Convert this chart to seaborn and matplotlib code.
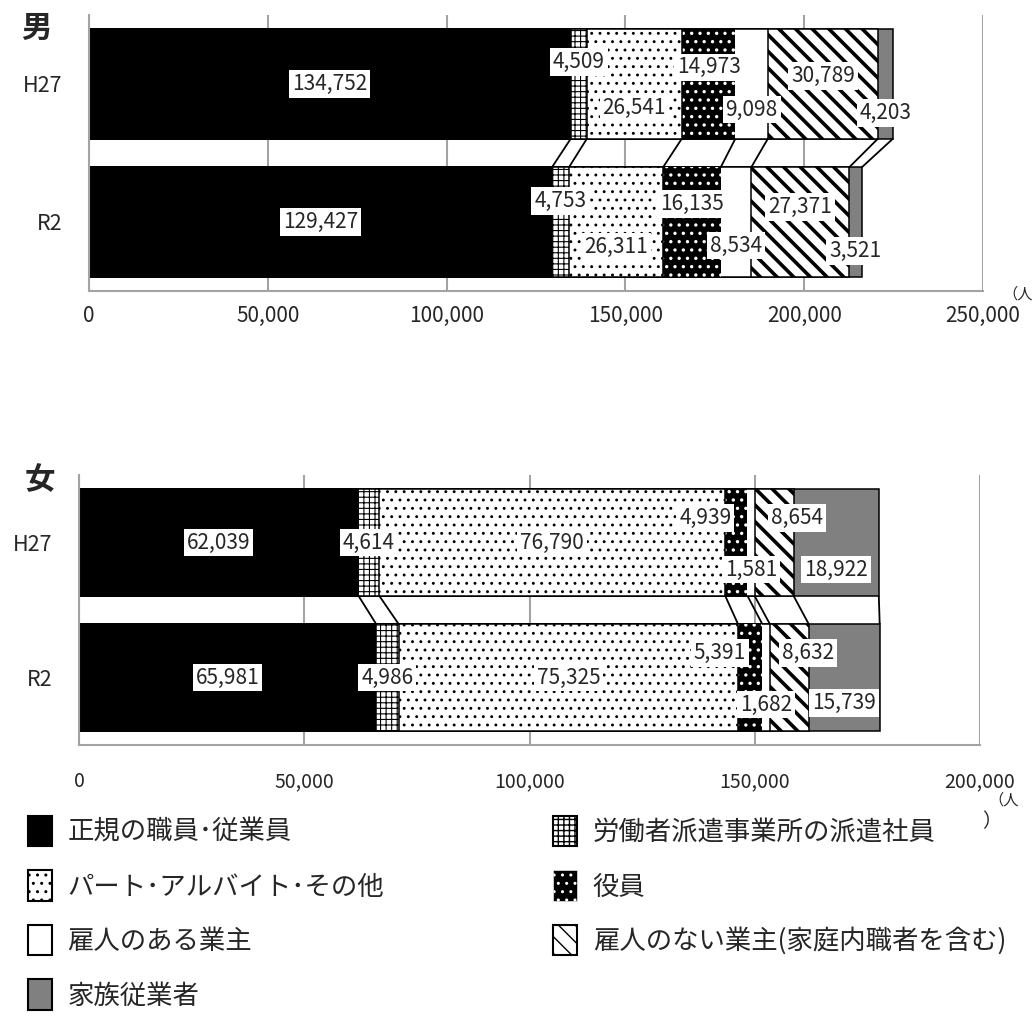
import matplotlib
matplotlib.use('Agg')
import matplotlib.pyplot as plt
from matplotlib.patches import Patch
from matplotlib.ticker import FuncFormatter
import numpy as np
import pandas as pd
import seaborn as sns

years = ['H27', 'R2']
categories = ['正規の職員･従業員', '労働者派遣事業所の派遣社員', 'パート･アルバイト･その他', '役員',
              '雇人のある業主', '雇人のない業主(家庭内職者を含む)', '家族従業者']
male_h27 = [134752, 4509, 26541, 14973, 9098, 30789, 4203]
male_r2 = [129427, 4753, 26311, 16135, 8534, 27371, 3521]
female_h27 = [62039, 4614, 76790, 4939, 1581, 8654, 18922]
female_r2 = [65981, 4986, 75325, 5391, 1682, 8632, 15739]

# fill styles per category: face, edge, line width, hatch, hatch line width
styles = [
    ('black', 'black', 1.1, None, 1.0),
    ('white', 'black', 1.1, '+++', 0.8),
    ('white', 'black', 1.1, '..', 0.9),
    ('black', 'white', 0.0, '..', 1.2),
    ('white', 'black', 1.1, None, 1.0),
    ('white', 'black', 1.1, '\\\\', 2.6),
    ('#808080', 'black', 1.1, None, 1.0),
]
GRAY = '#a3a3a3'
BAR_W = 0.79

# label placement (vertical offset in row units, horizontal nudge in data units)
male_dy = [[0, -0.16, 0.17, -0.12, 0.185, -0.06, 0.21],
           [0, -0.15, 0.18, -0.13, 0.17, -0.11, 0.21]]
female_dy = [[0, 0, 0, -0.18, 0.2, -0.18, 0.2],
             [0, 0, 0, -0.18, 0.2, -0.18, 0.19]]
male_dx = [[0] * 7, [0] * 7]
female_dx = [[0, 0, 0, -6900, 0, 5100, 0],
             [0, 0, 0, -6700, 0, 4200, 0]]

sns.set_style('white')
plt.rcParams['font.family'] = ['Noto Sans CJK JP', 'DejaVu Sans']


def draw_panel(ax, h27, r2, xmax, dy, dx, tick_size, tick_pad):
    df = pd.DataFrame([h27, r2], index=years, columns=categories)
    cum = df.cumsum(axis=1)
    for i in reversed(range(len(categories))):
        fc, ec, lw, hatch, hlw = styles[i]
        with plt.rc_context({'hatch.linewidth': hlw}):
            sns.barplot(x=cum.iloc[:, i].values, y=years, orient='h', color=fc,
                        edgecolor=ec, linewidth=lw, hatch=hatch, saturation=1,
                        width=BAR_W, errorbar=None, ax=ax, zorder=2)
    # series lines between the two bars
    for i in range(len(categories)):
        ax.plot([cum.iloc[0, i], cum.iloc[1, i]], [BAR_W / 2, 1 - BAR_W / 2],
                color='black', lw=1.3, zorder=3, solid_capstyle='butt')
    # data labels
    for r in range(2):
        start = 0
        for i in range(len(categories)):
            v = df.iloc[r, i]
            ax.text(start + v / 2 + dx[r][i], r + dy[r][i], f'{v:,}',
                    ha='center', va='center', fontsize=15, zorder=4,
                    bbox=dict(boxstyle='square,pad=0.14', fc='white', ec='none'))
            start += v

    ax.set_xlim(0, xmax)
    ax.set_ylim(1.5, -0.5)
    ax.set_xticks(np.arange(0, xmax + 1, 50000))
    ax.xaxis.set_major_formatter(FuncFormatter(lambda x, p: f'{x:,.0f}'))
    ax.set_yticks([0, 1])
    ax.set_yticklabels(years)
    ax.set_yticks([-0.5, 0.5, 1.5], minor=True)
    ax.tick_params(axis='y', which='major', length=0, pad=19, labelsize=15.5)
    ax.tick_params(axis='y', which='minor', length=7, width=1.5, color=GRAY, direction='out')
    ax.tick_params(axis='x', length=7, width=1.5, color=GRAY, direction='out',
                   labelsize=tick_size, pad=tick_pad)
    ax.set_xlabel('')
    ax.set_ylabel('')
    ax.grid(axis='x', color=GRAY, lw=1.5)
    ax.grid(axis='y', visible=False)
    ax.set_axisbelow(True)
    for s in ['top', 'right']:
        ax.spines[s].set_visible(False)
    for s in ['left', 'bottom']:
        ax.spines[s].set_color(GRAY)
        ax.spines[s].set_linewidth(1.5)


fig = plt.figure(figsize=(10.32, 10.16), dpi=100)
W, H = 1032, 1016
ax1 = fig.add_axes([89 / W, 1 - 291 / H, (983 - 89) / W, 276 / H])
ax2 = fig.add_axes([79 / W, 1 - 745 / H, (980 - 79) / W, 270 / H])

draw_panel(ax1, male_h27, male_r2, 250000, male_dy, male_dx, 15, 3)
draw_panel(ax2, female_h27, female_r2, 200000, female_dy, female_dx, 14, 12)

fig.text(36 / W, 1 - 28 / H, '男', ha='center', va='center', fontsize=22, fontweight='bold')
fig.text(40 / W, 1 - 480 / H, '女', ha='center', va='center', fontsize=22, fontweight='bold')

fig.text(1018 / W, 1 - 294 / H, '（人', ha='center', va='center', fontsize=11)
fig.text(1004 / W, 1 - 800 / H, '（人', ha='center', va='center', fontsize=11)
fig.text(992 / W, 1 - 822 / H, '）', ha='center', va='center', fontsize=14)

order = [0, 2, 4, 6, 1, 3, 5]
handles = []
for i in order:
    fc, ec, lw, hatch, hlw = styles[i]
    with plt.rc_context({'hatch.linewidth': hlw}):
        handles.append(Patch(facecolor=fc, edgecolor=ec if lw > 0 else 'white',
                             linewidth=lw + 0.4, hatch=hatch, label=categories[i]))
fig.legend(handles=handles, loc='upper left', bbox_to_anchor=(28 / W, 1 - 816 / H),
           ncol=2, frameon=False, fontsize=19, handlelength=0.9, handleheight=1.4,
           handletextpad=0.6, columnspacing=6.4, labelspacing=0.91,
           borderpad=0, borderaxespad=0)

fig.savefig('out.png', dpi=100)
